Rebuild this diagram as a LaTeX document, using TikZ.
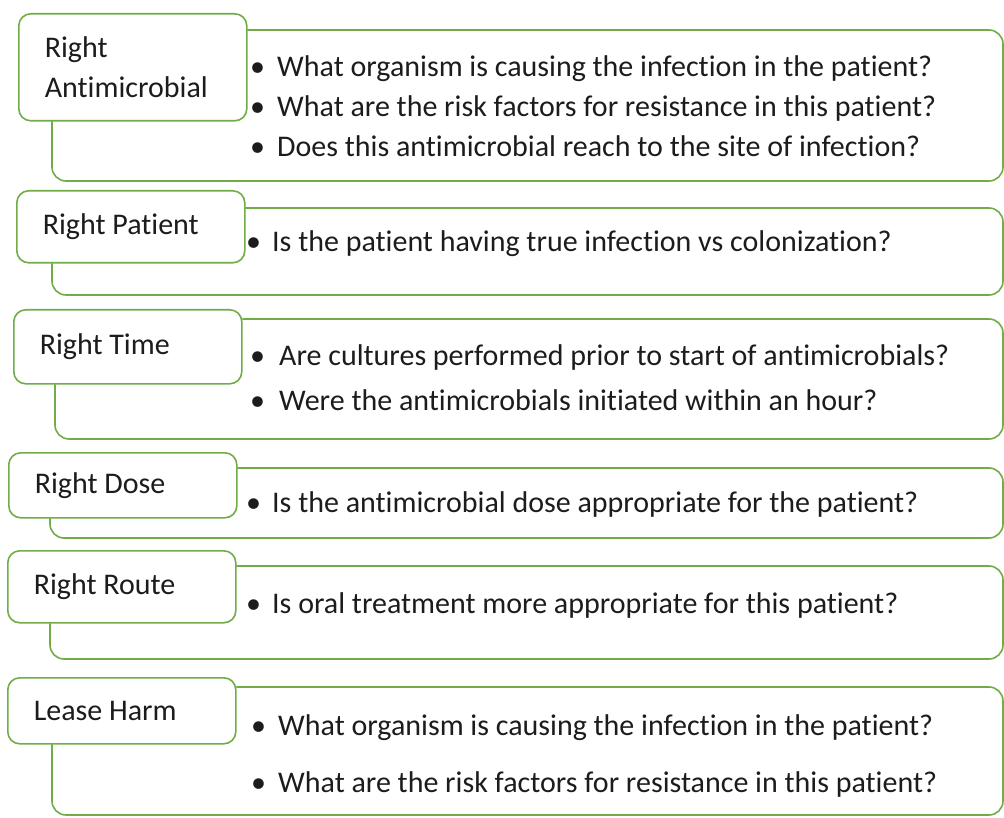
\documentclass[tikz,border=0pt]{standalone}
\usepackage{fontspec}
\setmainfont[Ligatures={NoCommon}]{Carlito}
\usepackage{tikz}
\usetikzlibrary{positioning}
\definecolor{leafgreen}{RGB}{112,173,71}
\definecolor{inkgray}{RGB}{28,28,28}
\tikzset{
	lab/.style={draw=leafgreen, line width=1.6pt, rounded corners=12pt, fill=white, anchor=north west, text width=176pt, inner xsep=26pt, inner ysep=0pt, align=flush left, text=inkgray},
	qline/.style={anchor=base west, inner sep=0pt, text=inkgray},
	frame/.style={draw=leafgreen, line width=1.6pt, rounded corners=14pt}
}
\newcommand{\bul}[1]{\makebox[#1pt][l]{\textbullet}}

\begin{document}
\begin{tikzpicture}[line cap=round,line join=round, x=1pt, y=-1pt, font=\fontsize{30}{40}\selectfont]
	\useasboundingbox (0,0) rectangle (1004,818);
	\node[lab, minimum height=107pt] (antimicrobial) at (18,13) {Right\\Antimicrobial};
	\node[lab, minimum height=72pt] (patient) at (16,190) {Right Patient};
	\node[lab, minimum height=74pt] (time) at (13,309) {Right Time};
	\node[lab, minimum height=65pt] (dose) at (8,452) {Right Dose};
	\node[lab, minimum height=72pt] (route) at (7,550) {Right Route};
	\node[lab, minimum height=66pt] (harm) at (7,677) {Lease Harm};
	\draw[frame] ([yshift=-17pt]antimicrobial.north east) -| (1003,181) -| ([xshift=34pt]antimicrobial.south west);
	\draw[frame] ([yshift=-18pt]patient.north east) -| (1003,295) -| ([xshift=36pt]patient.south west);
	\draw[frame] ([yshift=-10pt]time.north east) -| (1003,439) -| ([xshift=42pt]time.south west);
	\draw[frame] ([yshift=-16pt]dose.north east) -| (1003,538) -| ([xshift=42pt]dose.south west);
	\draw[frame] ([yshift=-16pt]route.north east) -| (1003,659) -| ([xshift=43pt]route.south west);
	\draw[frame] ([yshift=-10pt]harm.north east) -| (1003,815) -| ([xshift=45pt]harm.south west);
	\node[qline] (q11) at (250,77) {\bul{27}What organism is causing the infection in the patient?};
	\node[qline] (q12) at (250,117) {\bul{27}What are the risk factors for resistance in this patient?};
	\node[qline] (q13) at (250,157) {\bul{27}Does this antimicrobial reach to the site of infection?};
	\node[qline] (q21) at (246,252) {\bul{26}Is the patient having true infection vs colonization?};
	\node[qline] (q31) at (250,365) {\bul{29}Are cultures performed prior to start of antimicrobials?};
	\node[qline] (q32) at (250,410) {\bul{29}Were the antimicrobials initiated within an hour?};
	\node[qline] (q41) at (246,512) {\bul{26}Is the antimicrobial dose appropriate for the patient?};
	\node[qline] (q51) at (246,613) {\bul{26}Is oral treatment more appropriate for this patient?};
	\node[qline] (q61) at (251,735) {\bul{27}What organism is causing the infection in the patient?};
	\node[qline] (q62) at (251,792) {\bul{27}What are the risk factors for resistance in this patient?};
\end{tikzpicture}
\end{document}
